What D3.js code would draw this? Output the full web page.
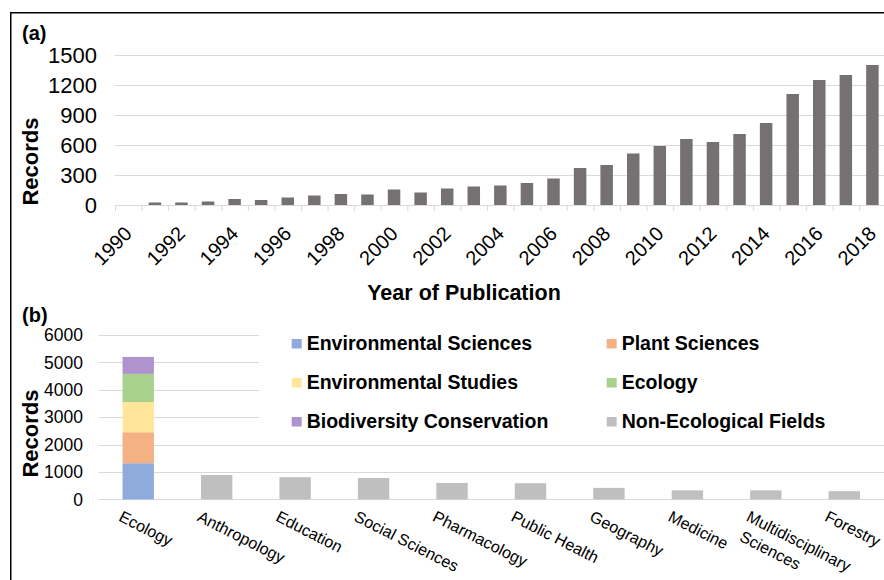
<!DOCTYPE html>
<html>
<head>
<meta charset="utf-8">
<script src="https://cdn.jsdelivr.net/npm/d3@7"></script>
<style>
  html, body { margin: 0; padding: 0; background: #fff; }
  svg { display: block; font-family: "Liberation Sans", Arial, sans-serif; }
</style>
</head>
<body>
<svg id="chart" width="884" height="580"></svg>
<script>
// Panel (a): records per year of publication
const years = d3.range(1990, 2019);
const yearRecords = [0, 25, 25, 35, 60, 50, 75, 95, 110, 105, 155, 125, 165, 185, 195,
                     220, 265, 370, 400, 515, 590, 660, 630, 710, 820, 1110, 1250, 1300, 1400];
const yearTickLabels = years.filter(y => (y - 1990) % 2 === 0);
const recordTicksA = [0, 300, 600, 900, 1200, 1500];

// Panel (b): records per research field
const fields = ["Ecology", "Anthropology", "Education", "Social Sciences", "Pharmacology",
                "Public Health", "Geography", "Medicine", "Multidisciplinary Sciences", "Forestry"];
const ecologySubfields = ["Environmental Sciences", "Plant Sciences", "Environmental Studies",
                          "Ecology", "Biodiversity Conservation"];
const ecologySubfieldRecords = [1320, 1130, 1100, 1030, 620];
const otherFieldRecords = [null, 890, 810, 780, 600, 590, 420, 330, 330, 300];
const legendLabels = ["Environmental Sciences", "Plant Sciences", "Environmental Studies",
                      "Ecology", "Biodiversity Conservation", "Non-Ecological Fields"];
const legendColors = ["#8faadc", "#f4b183", "#ffe699", "#a9d18e", "#ae93cf", "#bfbfbf"];
const recordTicksB = [0, 1000, 2000, 3000, 4000, 5000, 6000];

const svg = d3.select("#chart");
const gridColor = "#d9d9d9";

// Outer frame (top and left rules)
svg.append("line").attr("x1", 10.75).attr("x2", 884).attr("y1", 12.75).attr("y2", 12.75)
  .attr("stroke", "#000").attr("stroke-width", 1.5);
svg.append("line").attr("x1", 10.75).attr("x2", 10.75).attr("y1", 12).attr("y2", 580)
  .attr("stroke", "#000").attr("stroke-width", 1.5);

// ---------- Panel (a) ----------
const xA = d3.scaleBand().domain(years).range([115, 885.7]).paddingInner(0.53).paddingOuter(0.265);
const yA = d3.scaleLinear().domain([0, 1500]).range([205, 55]);
const gA = svg.append("g");

gA.append("g").selectAll("line").data(recordTicksA.slice(1)).join("line")
  .attr("x1", 115).attr("x2", 884).attr("y1", d => yA(d) + 0.5).attr("y2", d => yA(d) + 0.5)
  .attr("stroke", gridColor).attr("stroke-width", 1);

gA.append("g").selectAll("text").data(recordTicksA).join("text")
  .attr("x", 97).attr("y", d => yA(d)).attr("dy", "0.35em")
  .attr("text-anchor", "end").attr("font-size", 22).attr("fill", "#000")
  .text(d => d);

// Bars
gA.append("g").selectAll("rect").data(years.map((y, i) => ({ y, v: yearRecords[i] }))).join("rect")
  .attr("x", d => xA(d.y)).attr("width", xA.bandwidth())
  .attr("y", d => yA(d.v)).attr("height", d => yA(0) - yA(d.v))
  .attr("fill", "#767171");

// Baseline and category boundary ticks
const offA = (xA.step() - xA.bandwidth()) / 2;
gA.append("line").attr("x1", 115).attr("x2", 884).attr("y1", yA(0) + 0.5).attr("y2", yA(0) + 0.5)
  .attr("stroke", gridColor);
gA.append("g").selectAll("line").data(years).join("line")
  .attr("x1", d => xA(d) - offA + 0.5).attr("x2", d => xA(d) - offA + 0.5)
  .attr("y1", yA(0)).attr("y2", yA(0) + 6)
  .attr("stroke", gridColor);

gA.append("g").selectAll("text").data(yearTickLabels).join("text")
  .attr("transform", d => `translate(${xA(d) + xA.bandwidth() / 2},${yA(0) + 25}) rotate(-45)`)
  .attr("text-anchor", "end").attr("dy", "0.35em")
  .attr("font-size", 20).attr("fill", "#000")
  .text(d => d);

gA.append("text").attr("x", 464).attr("y", 300).attr("text-anchor", "middle")
  .attr("font-size", 21.5).attr("font-weight", "bold").text("Year of Publication");
gA.append("text").attr("transform", "translate(38,161.5) rotate(-90)").attr("text-anchor", "middle")
  .attr("font-size", 22).attr("font-weight", "bold").text("Records");
gA.append("text").attr("x", 22).attr("y", 40).attr("font-size", 20).attr("font-weight", "bold").text("(a)");

// ---------- Panel (b) ----------
const xB = d3.scaleBand().domain(fields).range([99, 883.5]).paddingInner(0.6).paddingOuter(0.3);
const yB = d3.scaleLinear().domain([0, 6000]).range([499.4, 335]);
const gB = svg.append("g");

gB.append("g").selectAll("line").data(recordTicksB.slice(1)).join("line")
  .attr("x1", 99).attr("x2", 884).attr("y1", d => Math.round(yB(d)) + 0.5).attr("y2", d => Math.round(yB(d)) + 0.5)
  .attr("stroke", gridColor);
gB.append("line").attr("x1", 99).attr("x2", 884)
  .attr("y1", Math.round(yB(0)) + 0.5).attr("y2", Math.round(yB(0)) + 0.5).attr("stroke", gridColor);

gB.append("g").selectAll("text").data(recordTicksB).join("text")
  .attr("x", 83).attr("y", d => yB(d)).attr("dy", "0.35em")
  .attr("text-anchor", "end").attr("font-size", 17.5).attr("fill", "#000")
  .text(d => d);

// Stacked ecology bar
const stackData = [Object.fromEntries(ecologySubfields.map((k, i) => [k, ecologySubfieldRecords[i]]))];
const stacked = d3.stack().keys(ecologySubfields)(stackData);
gB.append("g").selectAll("rect").data(stacked).join("rect")
  .attr("x", xB("Ecology")).attr("width", xB.bandwidth())
  .attr("y", s => yB(s[0][1])).attr("height", s => yB(s[0][0]) - yB(s[0][1]))
  .attr("fill", (s, i) => legendColors[i]);

// Non-ecological fields
gB.append("g").selectAll("rect")
  .data(fields.map((f, i) => ({ f, v: otherFieldRecords[i] })).filter(d => d.v != null)).join("rect")
  .attr("x", d => xB(d.f)).attr("width", xB.bandwidth())
  .attr("y", d => yB(d.v)).attr("height", d => yB(0) - yB(d.v))
  .attr("fill", legendColors[5]);

// Slanted category labels, wrapped when long
const labelG = gB.append("g").selectAll("text").data(fields).join("text")
  .attr("transform", d => `translate(${xB(d) + xB.bandwidth() / 2 - 20.5},520.3) rotate(27)`)
  .attr("font-size", 16.2).attr("fill", "#000");
labelG.each(function (d) {
  const t = d3.select(this);
  const words = d.split(" ");
  const probe = t.append("tspan").text(d);
  const tooLong = probe.node().getComputedTextLength() > 150;
  probe.remove();
  const lines = tooLong ? words : [d];
  lines.forEach((ln, i) => {
    t.append("tspan").attr("x", i === 0 ? 0 : 3).attr("y", i * 21).text(ln);
  });
});

gB.append("text").attr("transform", "translate(38,433.5) rotate(-90)").attr("text-anchor", "middle")
  .attr("font-size", 22).attr("font-weight", "bold").text("Records");
gB.append("text").attr("x", 22).attr("y", 321.5).attr("font-size", 20).attr("font-weight", "bold").text("(b)");

// Legend
const legend = gB.append("g");
legend.append("rect").attr("x", 259).attr("y", 328).attr("width", 625).attr("height", 108).attr("fill", "#fff");
const legendItems = legend.selectAll("g").data(legendLabels).join("g")
  .attr("transform", (d, i) => `translate(${i % 2 === 0 ? 291.7 : 606.7},${350 + Math.floor(i / 2) * 39})`);
legendItems.append("rect").attr("x", 0).attr("y", -11).attr("width", 10).attr("height", 9.5)
  .attr("fill", (d, i) => legendColors[i]);
legendItems.append("text").attr("x", 15).attr("y", 0)
  .attr("font-size", 19.5).attr("font-weight", "bold").attr("fill", "#000").text(d => d);
</script>
</body>
</html>
